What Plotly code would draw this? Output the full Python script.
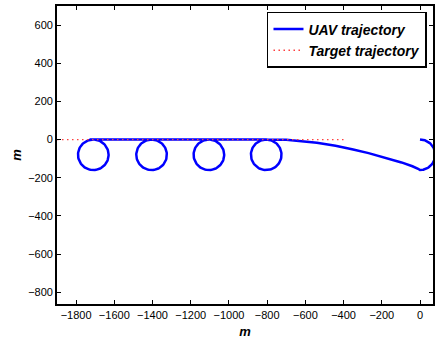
import numpy as np
import plotly.graph_objects as go

# ---- data ----
loop_centers_x = [-805, -1105, -1405, -1710]   # loops of the UAV (top tangent to y=0)
loop_center_y = -80
loop_radius = 80
start_arc_center = (0, -80)                      # initial half turn near origin
approach_x = [0, -10, -40, -97, -180, -269, -350, -442, -540, -650, -700]
approach_y = [-160, -153, -140, -120, -96, -71, -52, -33, -17, -5, -1]
uav_end_x = -1730
target_x = [-1900, -400]
target_y = [0, 0]

# ---- build UAV path ----
ux, uy = [], []
t = np.linspace(np.pi / 2, -np.pi / 2, 60)
ux += list(start_arc_center[0] + loop_radius * np.cos(t))
uy += list(start_arc_center[1] + loop_radius * np.sin(t))
ux += approach_x
uy += approach_y
for cx in loop_centers_x:
    ux.append(cx); uy.append(0)
    t = np.linspace(np.pi / 2, np.pi / 2 + 2 * np.pi, 90)
    ux += list(cx + loop_radius * np.cos(t))
    uy += list(loop_center_y + loop_radius * np.sin(t))
ux.append(uav_end_x); uy.append(0)

fig = go.Figure()
fig.add_trace(go.Scatter(x=ux, y=uy, mode="lines", name="UAV trajectory",
                         line=dict(color="#0000ff", width=2.5)))
fig.add_trace(go.Scatter(x=target_x, y=target_y, mode="lines", name="Target trajectory",
                         line=dict(color="#ff4040", width=1.3, dash="1.5px,3.5px")))

axis_common = dict(showline=True, linecolor="black", linewidth=1.7, mirror="ticks",
                   ticks="inside", ticklen=4, tickwidth=1, tickcolor="black",
                   showgrid=False, zeroline=False,
                   tickfont=dict(family="Liberation Sans, Arial", size=11, color="black"))

fig.update_layout(
    width=436, height=339,
    margin=dict(l=57, r=1, t=6, b=33),
    plot_bgcolor="white", paper_bgcolor="white",
    xaxis=dict(range=[-1900, 68], tickvals=list(range(-1800, 1, 200)),
               title=dict(text="<b><i>m</i></b>", standoff=8,
                          font=dict(family="Liberation Sans, Arial", size=13, color="black")),
               **axis_common),
    yaxis=dict(range=[-862, 700], tickvals=list(range(-800, 601, 200)),
               title=dict(text="<b><i>m</i></b>", standoff=4,
                          font=dict(family="Liberation Sans, Arial", size=13, color="black")),
               **axis_common),
    legend=dict(x=0.984, y=0.98, xanchor="right", yanchor="top",
                bordercolor="black", borderwidth=1.5, bgcolor="white",
                font=dict(family="Liberation Sans, Arial", size=14, color="black",
                          weight="bold", style="italic"),
                tracegroupgap=0, itemwidth=30),
    showlegend=True,
)

fig.write_html("out.html", config={"displayModeBar": False},
               post_script="document.body.style.margin='0';")
